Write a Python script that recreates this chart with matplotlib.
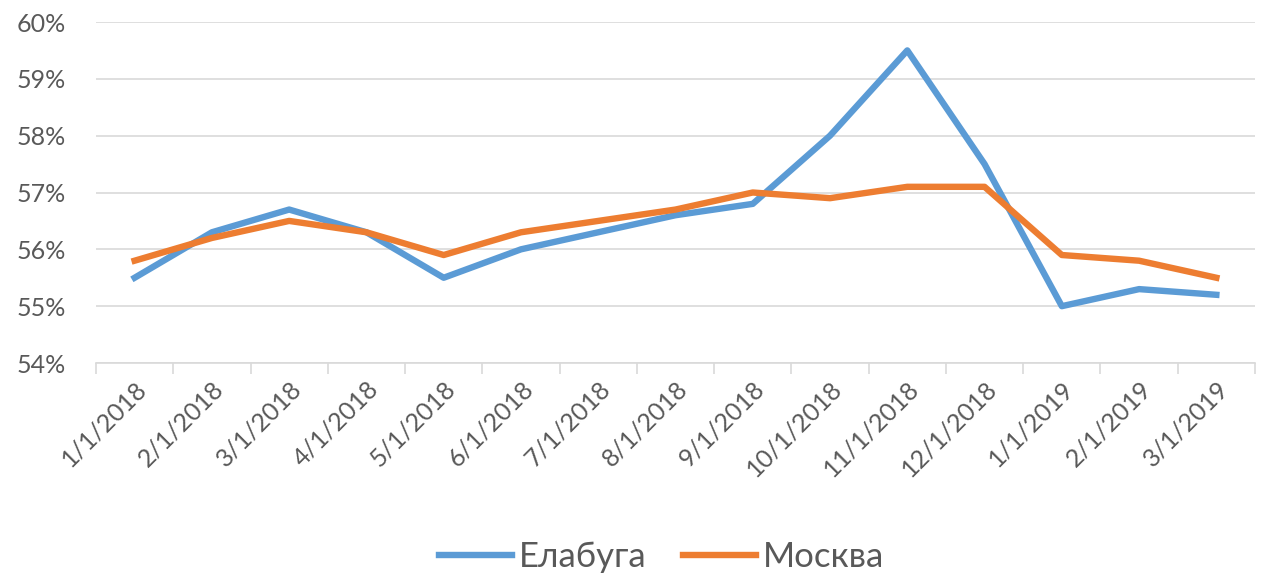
import matplotlib
matplotlib.use("Agg")
import matplotlib.pyplot as plt
from matplotlib.ticker import FuncFormatter, FixedLocator, NullFormatter

categories = ["1/1/2018", "2/1/2018", "3/1/2018", "4/1/2018", "5/1/2018", "6/1/2018",
              "7/1/2018", "8/1/2018", "9/1/2018", "10/1/2018", "11/1/2018", "12/1/2018",
              "1/1/2019", "2/1/2019", "3/1/2019"]
elabuga = [55.5, 56.3, 56.7, 56.3, 55.5, 56.0, 56.3, 56.6, 56.8, 58.0, 59.5, 57.5, 55.0, 55.3, 55.2]
moskva = [55.8, 56.2, 56.5, 56.3, 55.9, 56.3, 56.5, 56.7, 57.0, 56.9, 57.1, 57.1, 55.9, 55.8, 55.5]

plt.rcParams['font.family'] = ['Lato', 'DejaVu Sans']
txt = '#595959'
grid = '#d9d9d9'

fig = plt.figure(figsize=(12.7, 5.77), dpi=100)
ax = fig.add_axes([96/1270, 1-363/577, (1255-96)/1270, (363-22)/577])

x = list(range(len(categories)))
ax.plot(x, elabuga, color='#5b9bd5', lw=4.6, label='Елабуга', solid_joinstyle='round')
ax.plot(x, moskva, color='#ed7d31', lw=4.6, label='Москва', solid_joinstyle='round')

ax.set_xlim(-0.5, len(categories) - 0.5)
ax.set_ylim(54, 60)
ax.set_yticks([54, 55, 56, 57, 58, 59, 60])
ax.yaxis.set_major_formatter(FuncFormatter(lambda v, p: f"{v:.0f}%"))
ax.grid(axis='y', color=grid, lw=1.2)
ax.set_axisbelow(True)
for s in ['left', 'right', 'top']:
    ax.spines[s].set_visible(False)
ax.spines['bottom'].set_color(grid)
ax.spines['bottom'].set_linewidth(1.2)

ax.set_xticks(x)
ax.set_xticklabels(categories, rotation=45, ha='right', rotation_mode='anchor')
ax.tick_params(axis='x', length=0, labelsize=18, labelcolor=txt, pad=10)
ax.xaxis.set_minor_locator(FixedLocator([i - 0.5 for i in range(len(categories) + 1)]))
ax.xaxis.set_minor_formatter(NullFormatter())
ax.tick_params(axis='x', which='minor', length=8, color=grid, width=1.2)
ax.tick_params(axis='y', length=0, labelsize=18, labelcolor=txt, pad=22)

leg = fig.legend(loc='center', bbox_to_anchor=(0.521, 1 - 557/577), ncol=2, frameon=False,
                 fontsize=25, handlelength=2.1, handletextpad=0.2, columnspacing=1.05)
for t in leg.get_texts():
    t.set_color(txt)

fig.savefig('out.png', dpi=100, facecolor='white')
